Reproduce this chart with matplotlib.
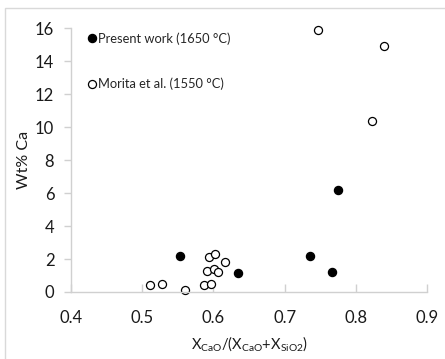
import matplotlib
matplotlib.use("Agg")
import matplotlib.pyplot as plt
from matplotlib.patches import Rectangle

# Present work (1650 °C)
present_x = [0.553, 0.634, 0.736, 0.766, 0.775]
present_y = [2.2, 1.15, 2.2, 1.2, 6.2]

# Morita et al. (1550 °C)
morita_x = [0.511, 0.528, 0.560, 0.587, 0.596, 0.591, 0.601, 0.606,
            0.616, 0.594, 0.602, 0.747, 0.840, 0.823]
morita_y = [0.45, 0.5, 0.15, 0.45, 0.5, 1.25, 1.4, 1.2,
            1.8, 2.15, 2.3, 15.9, 14.9, 10.4]

x_ticks = [0.4, 0.5, 0.6, 0.7, 0.8, 0.9]
y_ticks = [0, 2, 4, 6, 8, 10, 12, 14, 16]

plt.rcParams['font.family'] = ['Lato', 'DejaVu Sans']

fig = plt.figure(figsize=(4.45, 3.59), dpi=100)
ax = fig.add_axes([71 / 445, 67 / 359, 356 / 445, 263.7 / 359])

# chart-area frame
fig.patches.append(Rectangle((4.5 / 445, -0.05), 1.2, (359 - 8) / 359 + 0.05,
                             transform=fig.transFigure, fill=False,
                             edgecolor='#d9d9d9', linewidth=1.0))

ax.plot(present_x, present_y, linestyle='none', marker='o', markersize=5.8,
        markerfacecolor='black', markeredgecolor='black', clip_on=False,
        label='Present work (1650 °C)')
ax.plot(morita_x, morita_y, linestyle='none', marker='o', markersize=5.8,
        markerfacecolor='white', markeredgecolor='black', markeredgewidth=0.9,
        clip_on=False, label='Morita et al. (1550 °C)')

ax.set_xlim(0.4, 0.9)
ax.set_ylim(0, 16)
ax.set_xticks(x_ticks)
ax.set_yticks(y_ticks)
ax.set_xticklabels([f"{v:.1f}" for v in x_ticks])
ax.set_yticklabels([str(v) for v in y_ticks])

for side in ['top', 'right']:
    ax.spines[side].set_visible(False)
for side in ['left', 'bottom']:
    ax.spines[side].set_color('#d0d0d0')
    ax.spines[side].set_linewidth(1.0)

ax.tick_params(axis='x', direction='in', length=6, width=1.0, color='#d0d0d0',
               labelsize=12, labelcolor='#1a1a1a', pad=13)
ax.tick_params(axis='y', direction='out', length=5, width=1.0, color='#d0d0d0',
               labelsize=12, labelcolor='#1a1a1a', pad=7)

ax.set_ylabel('Wt% Ca', fontsize=11.5, color='#1a1a1a', labelpad=3)
ax.set_xlabel(r'X$_{\mathregular{CaO}}$/(X$_{\mathregular{CaO}}$+X$_{\mathregular{SiO2}}$)',
              fontsize=10.5, color='#1a1a1a', labelpad=6)

leg = ax.legend(loc='upper left', bbox_to_anchor=(0.035, 1.005), frameon=False,
                fontsize=9.3, handlelength=0.5, handletextpad=0.25,
                labelspacing=2.55, borderaxespad=0.0)
for t in leg.get_texts():
    t.set_color('#262626')

fig.savefig('out.png', dpi=100)
